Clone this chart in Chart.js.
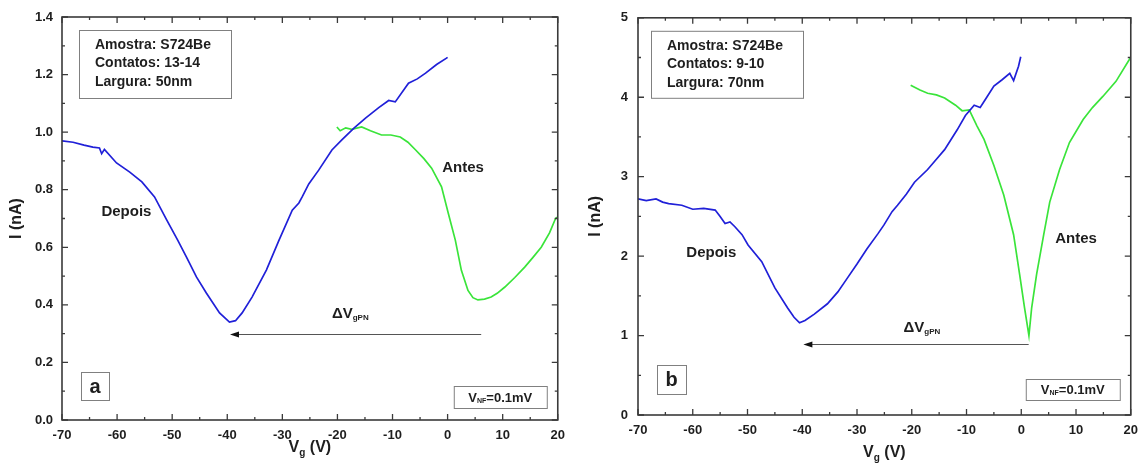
<!DOCTYPE html>
<html>
<head>
<meta charset="utf-8">
<script src="https://cdn.jsdelivr.net/npm/chart.js@4"></script>
<style>
  body { margin: 0; background: #fff; }
  canvas { position: absolute; top: 0; }
  #chartA { left: 0; }
  #chartB { left: 573px; }
</style>
</head>
<body>
<canvas id="chartA" width="573" height="463"></canvas>
<canvas id="chartB" width="573" height="463"></canvas>
<script>
// Painel (a): Vg (V) e I (nA)
const vgDepoisA = [-70, -68, -66, -64.4, -63.2, -62.8, -62.3, -60.1, -57.7, -55.5, -53.2, -51, -49, -47.4, -45.6, -43.8, -41.4, -39.6, -38.5, -37.3, -35.5, -32.9, -30.6, -28.2, -27, -26.4, -25.2, -23.4, -21, -19.2, -17, -14.9, -12.5, -10.7, -9.5, -7.1, -5.5, -4, -2, -0.2, 0];
const iDepoisA = [0.97, 0.965, 0.955, 0.948, 0.945, 0.925, 0.94, 0.893, 0.861, 0.827, 0.775, 0.695, 0.625, 0.566, 0.497, 0.441, 0.372, 0.34, 0.345, 0.372, 0.427, 0.521, 0.625, 0.729, 0.754, 0.775, 0.82, 0.868, 0.938, 0.973, 1.014, 1.049, 1.085, 1.11, 1.105, 1.17, 1.185, 1.205, 1.235, 1.257, 1.26];
const vgAntesA = [-20.1, -19.5, -18.5, -17.4, -15.6, -14, -12, -10.3, -8.6, -7.2, -5.8, -4.3, -2.9, -1.1, 0.1, 1.4, 2.5, 3.7, 4.6, 5.5, 6.7, 7.9, 9, 10.4, 12.2, 14, 15.5, 17, 18.5, 19.6, 20];
const iAntesA = [1.018, 1.005, 1.015, 1.01, 1.018, 1.005, 0.99, 0.99, 0.983, 0.965, 0.938, 0.908, 0.875, 0.81, 0.72, 0.625, 0.52, 0.45, 0.425, 0.417, 0.42, 0.427, 0.44, 0.462, 0.495, 0.531, 0.565, 0.6, 0.65, 0.7, 0.705];

// Painel (b)
const vgDepoisB = [-70, -68.5, -66.7, -65.5, -64.4, -62, -60, -58, -55.9, -55, -54.1, -53.2, -52.3, -51, -49.9, -47.4, -45, -42.7, -41.5, -40.5, -39.5, -37.8, -35.4, -33.5, -31.8, -30, -28.2, -26.2, -25.1, -23.6, -22.6, -21, -19.5, -17.1, -15.5, -14, -11.7, -10.2, -8.6, -7.5, -6.3, -5, -3.5, -2.1, -1.4, -0.5, -0.1];
const iDepoisB = [2.72, 2.7, 2.72, 2.68, 2.66, 2.64, 2.59, 2.6, 2.58, 2.5, 2.41, 2.43, 2.37, 2.27, 2.14, 1.93, 1.6, 1.35, 1.23, 1.16, 1.19, 1.27, 1.4, 1.55, 1.72, 1.9, 2.09, 2.28, 2.39, 2.56, 2.64, 2.78, 2.93, 3.09, 3.22, 3.34, 3.59, 3.77, 3.9, 3.87, 4.0, 4.14, 4.22, 4.3, 4.21, 4.39, 4.51];
const vgAntesB = [-20.2, -18.5, -17.1, -15.5, -14, -12, -10.8, -9.5, -8.1, -6.8, -5, -3.2, -1.4, -0.3, 0.6, 1.4, 1.9, 2.8, 4.1, 5.2, 7, 8.8, 11.3, 13, 14.9, 17.3, 19.6, 20];
const iAntesB = [4.15, 4.09, 4.05, 4.03, 3.99, 3.9, 3.83, 3.84, 3.64, 3.47, 3.14, 2.77, 2.27, 1.77, 1.35, 1.0, 1.35, 1.77, 2.27, 2.68, 3.09, 3.43, 3.72, 3.87, 4.01, 4.2, 4.46, 4.5];

const infoA = ['Amostra: S724Be', 'Contatos: 13-14', 'Largura: 50nm'];
const infoB = ['Amostra: S724Be', 'Contatos: 9-10', 'Largura: 70nm'];

const FONT = '"Liberation Sans", Arial, sans-serif';
const BLUE = '#2020d8';
const GREEN = '#3ae43a';
const TEXT = '#1e1e1e';

function pts(xs, ys) {
  return xs.map((v, i) => ({ x: v, y: ys[i] }));
}

// desenha texto com partes (subscrito)
function drawParts(ctx, parts, x, y, align) {
  let w = 0;
  parts.forEach(p => { ctx.font = p.f; w += ctx.measureText(p.t).width; });
  let cx = align === 'center' ? x - w / 2 : x;
  ctx.textAlign = 'left';
  ctx.textBaseline = 'middle';
  parts.forEach(p => {
    ctx.font = p.f;
    ctx.fillText(p.t, cx, y + (p.dy || 0));
    cx += ctx.measureText(p.t).width;
  });
}

const deco = {
  id: 'deco',
  afterDraw(chart, args, o) {
    const { ctx, chartArea: a, scales: { x, y } } = chart;
    ctx.save();

    // ticks para dentro
    ctx.strokeStyle = '#3a3a3a';
    ctx.lineWidth = 1.3;
    ctx.beginPath();
    const nx = Math.round((x.max - x.min) / o.xMinor);
    for (let i = 0; i <= nx; i++) {
      const px = x.getPixelForValue(x.min + i * o.xMinor);
      const len = i % 2 === 0 ? 6 : 3;
      ctx.moveTo(px, a.bottom); ctx.lineTo(px, a.bottom - len);
      ctx.moveTo(px, a.top); ctx.lineTo(px, a.top + len);
    }
    const ny = Math.round((y.max - y.min) / o.yMinor);
    for (let i = 0; i <= ny; i++) {
      const py = y.getPixelForValue(y.min + i * o.yMinor);
      const len = i % 2 === 0 ? 6 : 3;
      ctx.moveTo(a.left, py); ctx.lineTo(a.left + len, py);
      ctx.moveTo(a.right, py); ctx.lineTo(a.right - len, py);
    }
    ctx.stroke();

    // moldura
    ctx.lineWidth = 1.6;
    ctx.strokeRect(a.left, a.top, a.right - a.left, a.bottom - a.top);

    ctx.fillStyle = TEXT;

    // títulos dos eixos
    ctx.save();
    ctx.translate(o.yTitleX, (a.top + a.bottom) / 2);
    ctx.rotate(-Math.PI / 2);
    ctx.font = 'bold 16px ' + FONT;
    ctx.textAlign = 'center';
    ctx.textBaseline = 'middle';
    ctx.fillText('I (nA)', 0, 0);
    ctx.restore();
    drawParts(ctx, [
      { t: 'V', f: 'bold 16px ' + FONT },
      { t: 'g', f: 'bold 10px ' + FONT, dy: 5 },
      { t: ' (V)', f: 'bold 16px ' + FONT }
    ], (a.left + a.right) / 2, o.xTitleY, 'center');

    // caixa de informações
    ctx.strokeStyle = '#808080';
    ctx.lineWidth = 1;
    const bi = o.info;
    ctx.strokeRect(a.left + bi.dx + 0.5, a.top + bi.dy + 0.5, bi.w, bi.h);
    ctx.font = 'bold 14px ' + FONT;
    ctx.textAlign = 'left';
    ctx.textBaseline = 'middle';
    bi.lines.forEach((t, i) => {
      ctx.fillText(t, a.left + bi.dx + 16, a.top + bi.dy + 15 + i * 18.5);
    });

    // letra do painel
    const pl = o.panel;
    ctx.strokeRect(a.left + pl.dx + 0.5, a.bottom - pl.db - pl.s + 0.5, pl.s, pl.s);
    ctx.font = 'bold 20px ' + FONT;
    ctx.textAlign = 'center';
    ctx.fillText(pl.t, a.left + pl.dx + pl.s / 2, a.bottom - pl.db - pl.s / 2 + 1);

    // V_NF
    const vb = o.vnf;
    const vx = a.right - vb.dr - vb.w;
    const vy = a.bottom - vb.db - vb.h;
    ctx.strokeRect(vx + 0.5, vy + 0.5, vb.w, vb.h);
    drawParts(ctx, [
      { t: 'V', f: 'bold 13px ' + FONT },
      { t: 'NF', f: 'bold 7px ' + FONT, dy: 3 },
      { t: '=0.1mV', f: 'bold 13px ' + FONT }
    ], vx + vb.w / 2, vy + vb.h / 2 + 1, 'center');

    // nomes das curvas
    ctx.font = 'bold 15px ' + FONT;
    ctx.textAlign = 'center';
    o.names.forEach(n => {
      ctx.fillText(n.t, x.getPixelForValue(n.x), y.getPixelForValue(n.y));
    });

    // ΔVgPN
    drawParts(ctx, [
      { t: 'ΔV', f: 'bold 15px ' + FONT },
      { t: 'gPN', f: 'bold 8px ' + FONT, dy: 4 }
    ], x.getPixelForValue(o.delta.x), y.getPixelForValue(o.delta.y), 'left');

    // seta
    const ar = o.arrow;
    const x0 = x.getPixelForValue(ar.x0);
    const x1 = x.getPixelForValue(ar.x1);
    const ay = Math.round(y.getPixelForValue(ar.y)) + 0.5;
    ctx.strokeStyle = '#555';
    ctx.lineWidth = 1;
    ctx.beginPath();
    ctx.moveTo(x0, ay); ctx.lineTo(x1 + 6, ay);
    ctx.stroke();
    ctx.fillStyle = '#111';
    ctx.beginPath();
    ctx.moveTo(x1, ay); ctx.lineTo(x1 + 9, ay - 3); ctx.lineTo(x1 + 9, ay + 3);
    ctx.closePath();
    ctx.fill();

    ctx.restore();
  }
};

function makeChart(id, sets, s) {
  return new Chart(document.getElementById(id), {
    type: 'line',
    data: {
      datasets: sets.map(d => ({
        data: d.data,
        borderColor: d.color,
        borderWidth: 1.7,
        pointRadius: 0,
        tension: 0,
        fill: false
      }))
    },
    options: {
      responsive: false,
      animation: false,
      layout: { padding: { top: s.top, right: s.right, left: 0, bottom: 0 } },
      plugins: { legend: { display: false }, tooltip: { enabled: false }, deco: s.deco },
      scales: {
        x: {
          type: 'linear', min: -70, max: 20,
          grid: { display: false, drawTicks: false },
          border: { display: false },
          ticks: { stepSize: 10, autoSkip: false, padding: 8, color: TEXT, font: { family: FONT, weight: 'bold', size: 13 } },
          afterFit: sc => { sc.height = s.xh; }
        },
        y: {
          type: 'linear', min: 0, max: s.ymax,
          grid: { display: false, drawTicks: false },
          border: { display: false },
          ticks: { stepSize: s.ystep, autoSkip: false, padding: s.ypad, color: TEXT, font: { family: FONT, weight: 'bold', size: 13 }, callback: s.yfmt },
          afterFit: sc => { sc.width = s.yw; }
        }
      }
    },
    plugins: [deco]
  });
}

makeChart('chartA', [
  { data: pts(vgDepoisA, iDepoisA), color: BLUE },
  { data: pts(vgAntesA, iAntesA), color: GREEN }
], {
  top: 17, right: 13, xh: 43, yw: 62, ypad: 9, ymax: 1.4, ystep: 0.2,
  yfmt: v => v.toFixed(1),
  deco: {
    xMinor: 5, yMinor: 0.1, yTitleX: 17, xTitleY: 448,
    info: { dx: 17, dy: 13, w: 152, h: 68, lines: infoA },
    panel: { t: 'a', dx: 19, db: 20, s: 28 },
    vnf: { dr: 11, db: 12, w: 93, h: 22 },
    names: [{ t: 'Depois', x: -58.3, y: 0.722 }, { t: 'Antes', x: 2.8, y: 0.875 }],
    delta: { x: -21, y: 0.368 },
    arrow: { x0: 6.1, x1: -39.5, y: 0.3 }
  }
});

makeChart('chartB', [
  { data: pts(vgDepoisB, iDepoisB), color: BLUE },
  { data: pts(vgAntesB, iAntesB), color: GREEN }
], {
  top: 14, right: 11, xh: 48, yw: 65, ypad: 10, ymax: 5, ystep: 1,
  yfmt: v => v,
  deco: {
    xMinor: 5, yMinor: 0.5, yTitleX: 23, xTitleY: 453,
    info: { dx: 13, dy: 13, w: 152, h: 67, lines: infoB },
    panel: { t: 'b', dx: 19, db: 21, s: 29 },
    vnf: { dr: 11, db: 15, w: 94, h: 21 },
    names: [{ t: 'Depois', x: -56.6, y: 2.04 }, { t: 'Antes', x: 10.0, y: 2.22 }],
    delta: { x: -21.5, y: 1.10 },
    arrow: { x0: 1.35, x1: -39.8, y: 0.9 }
  }
});
</script>
</body>
</html>
